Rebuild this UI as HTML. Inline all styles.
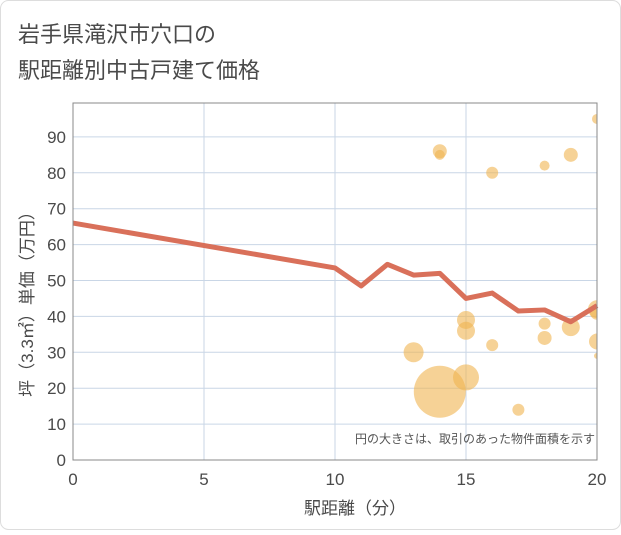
<!DOCTYPE html>
<html><head><meta charset="utf-8"><style>
body{margin:0;background:#fff;}
.w{width:621px;height:530px;position:relative;font-family:"Liberation Sans","Noto Sans CJK JP",sans-serif;}
</style></head><body>
<div class="w">
<svg width="621" height="530" id="c">
<rect x="0.5" y="0.5" width="620" height="529" rx="8" fill="#fff" stroke="#ddd"/>
<text x="18" y="42" font-size="22" fill="#4a4a4a">岩手県滝沢市穴口の</text>
<text x="18" y="78" font-size="22" fill="#4a4a4a">駅距離別中古戸建て価格</text>
<defs><clipPath id="pc"><rect x="73" y="103" width="524" height="357"/></clipPath></defs>
<g id="grid"></g>
<g id="bub" clip-path="url(#pc)"></g>
<g id="ln"></g>
<rect x="73" y="103" width="524" height="357" fill="none" stroke="#888"/>
<text x="595" y="443" font-size="12" fill="#555" text-anchor="end">円の大きさは、取引のあった物件面積を示す</text>
<text x="355" y="514" font-size="17" fill="#4a4a4a" text-anchor="middle">駅距離（分）</text>
<text transform="translate(33,300) rotate(-90)" font-size="17" fill="#4a4a4a" text-anchor="middle">坪（3.3㎡）単価（万円）</text>
</svg></div>
<script>
const xTicks=[0,5,10,15,20];
const yTicks=[0,10,20,30,40,50,60,70,80,90];
const lineX=[0,10,11,12,13,14,15,16,17,18,19,20];
const lineY=[66,53.5,48.5,54.5,51.5,52,45,46.5,41.5,41.8,38.5,43];
const bubX=[14,14,16,18,19,20,20,20,15,15,18,16,18,19,20,20,13,14,15,17];
const bubY=[86,85,80,82,85,95,42,41,39,36,38,32,34,37,33,29,30,19,23,14];
const bubR=[7,5,6,5,7,5,9,7,9,9,6,6,7,9,8,3,10,26,13,6];
const NS="http://www.w3.org/2000/svg";
const sx=v=>73+v*26.2, sy=v=>460-v*3.59;
function mk(t,a,p){const e=document.createElementNS(NS,t);for(const k in a)e.setAttribute(k,a[k]);p.appendChild(e);return e;}
const g=document.getElementById('grid');
yTicks.forEach(v=>{const l=mk('line',{x1:73,x2:597,y1:sy(v),y2:sy(v),stroke:'#c9d6e6'},g);


const t=mk('text',{x:66,y:sy(v)+6,'font-size':17,fill:'#4a4a4a','text-anchor':'end'},g);t.textContent=v;

});
xTicks.forEach(v=>{const l=mk('line',{y1:103,y2:460,x1:sx(v),x2:sx(v),stroke:'#c9d6e6'},g);


const t=mk('text',{x:sx(v),y:485,'font-size':17,fill:'#4a4a4a','text-anchor':'middle'},g);t.textContent=v;

});
const b=document.getElementById('bub');
bubX.forEach((x,i)=>{const c=mk('circle',{cx:sx(x),cy:sy(bubY[i]),r:bubR[i],fill:'rgba(240,180,80,0.6)'},b);

});
const p=mk('polyline',{points:lineX.map((x,i)=>sx(x)+','+sy(lineY[i])).join(' '),fill:'none',stroke:'#d9705a','stroke-width':5,'stroke-linejoin':'round'},document.getElementById('ln'));


</script>
</body></html>
